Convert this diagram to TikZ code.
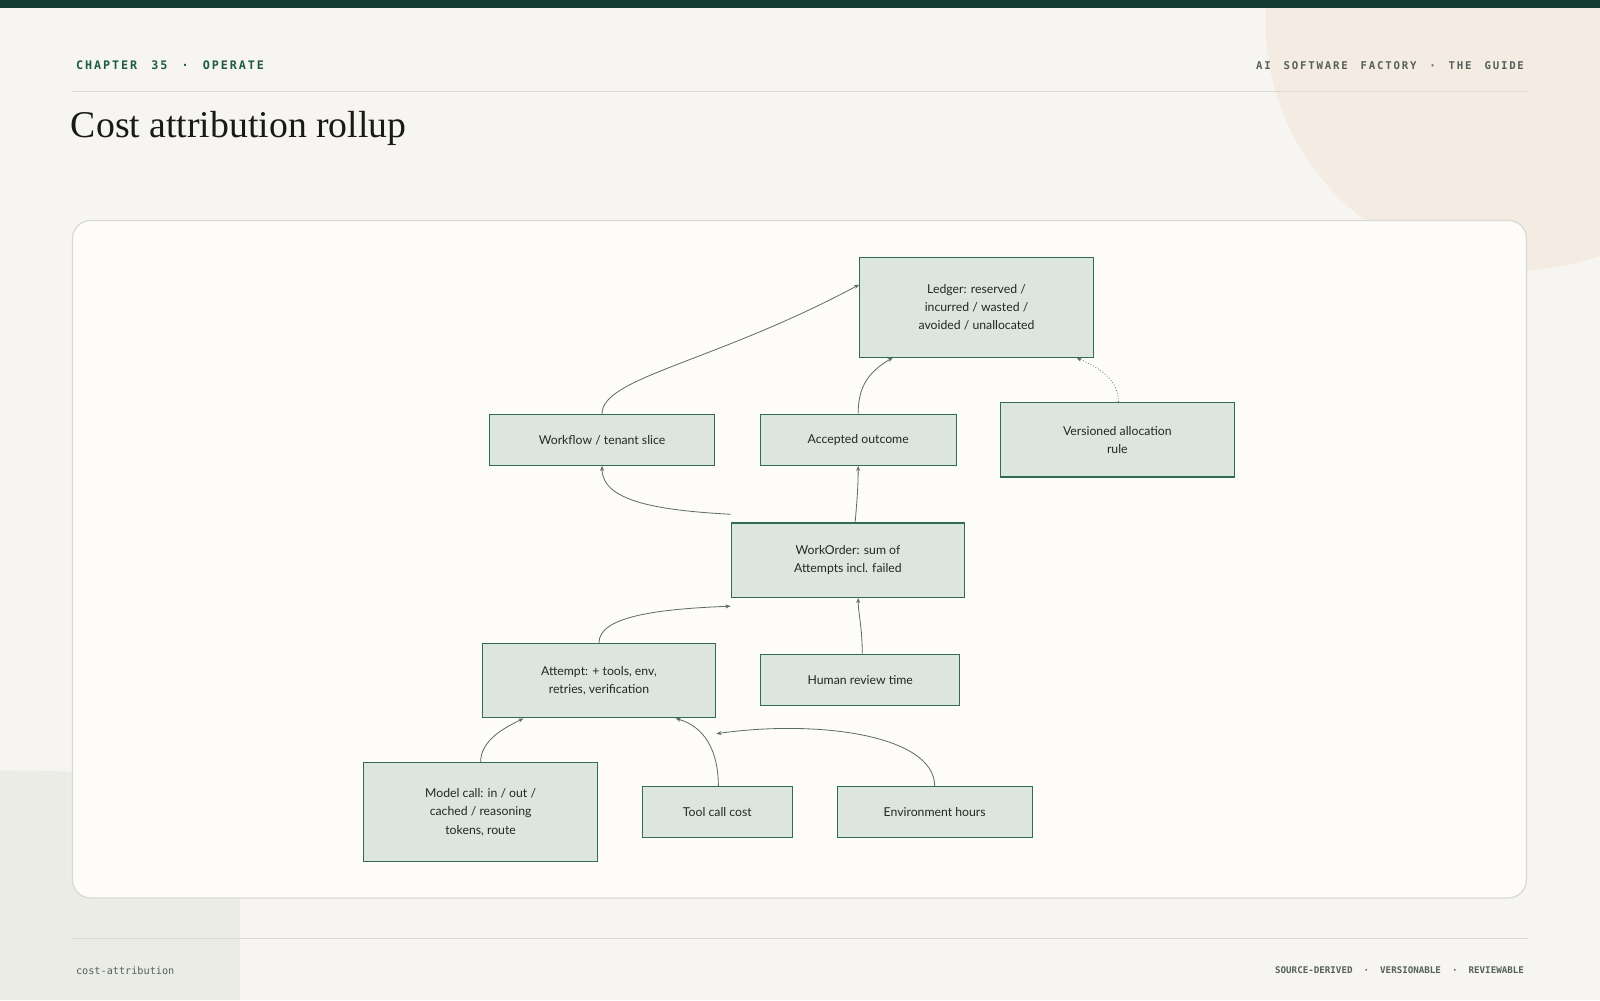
\documentclass[tikz,border=0pt]{standalone}
\usepackage{fontspec}
\setmainfont{Liberation Serif}
\newfontfamily\nodefont{Lato}
\newfontfamily\monof{DejaVu Sans Mono}
\usetikzlibrary{arrows.meta}
\definecolor{bg}{HTML}{F6F5F1}
\definecolor{bar}{HTML}{123D30}
\definecolor{peach}{HTML}{F4ECE2}
\definecolor{greyb}{HTML}{ECECE7}
\definecolor{panel}{HTML}{FDFCF8}
\definecolor{pstroke}{HTML}{DADAD5}
\definecolor{boxf}{HTML}{DCE6DE}
\definecolor{boxs}{HTML}{2F6B55}
\definecolor{arr}{HTML}{5E6E66}
\definecolor{hdr}{HTML}{1E5A44}
\definecolor{gtxt}{HTML}{55605A}
\begin{document}
\begin{tikzpicture}[x=1pt,y=-1pt,
 box/.style={draw=boxs,fill=boxf,line width=1.1pt,font=\nodefont\fontsize{12}{18}\selectfont,align=center,inner sep=0pt,text=black!85},
 con/.style={draw=arr,line width=0.8pt,-{Stealth[length=5pt,width=4pt]}}]
\useasboundingbox (0,0) rectangle (1568,980);
\fill[bg] (0,0) rectangle (1568,980);
\begin{scope}
\clip (0,0) rectangle (1568,980);
\fill[peach] (1485,20) circle (245);
\fill[greyb] (0,980) -- (0,755) .. controls (150,755) and (235,770) .. (235,830) -- (235,980) -- cycle;
\end{scope}
\fill[bar] (0,0) rectangle (1568,8);
\draw[pstroke,line width=0.6pt] (71,89) -- (1497,89);
\draw[pstroke,line width=0.6pt] (71,920) -- (1497,920);
\node[anchor=west,font=\monof\bfseries\fontsize{11.5}{14}\selectfont,text=hdr] (h1) at (71,64) {C\,H\,A\,P\,T\,E\,R\ \ 3\,5\ \ ·\ \ O\,P\,E\,R\,A\,T\,E};
\node[anchor=east,font=\monof\bfseries\fontsize{10.5}{14}\selectfont,text=gtxt] (h2) at (1497,64) {A\,I\ \ S\,O\,F\,T\,W\,A\,R\,E\ \ F\,A\,C\,T\,O\,R\,Y\ \ ·\ \ T\,H\,E\ \ G\,U\,I\,D\,E};
\node[anchor=west,font=\fontsize{37}{42}\selectfont,text=black!90] (title) at (66,126) {Cost attribution rollup};
\node[anchor=west,font=\monof\fontsize{10}{12}\selectfont,text=gtxt] (f1) at (71,951) {cost-attribution};
\node[anchor=east,font=\monof\bfseries\fontsize{9}{12}\selectfont,text=gtxt] (f2) at (1497,951) {SOURCE-DERIVED\ \ ·\ \ VERSIONABLE\ \ ·\ \ REVIEWABLE};
\draw[pstroke,fill=panel,line width=1.2pt,rounded corners=18] (71,216) rectangle (1496,880);
\node[box,minimum width=229,minimum height=98] (ledger) at (957,301) {Ledger: reserved /\\incurred / wasted /\\avoided / unallocated};
\node[box,minimum width=221,minimum height=50] (wf) at (590,431) {Workflow / tenant slice};
\node[box,minimum width=192,minimum height=50] (acc) at (841,431) {Accepted outcome};
\node[box,minimum width=229,minimum height=73] (ver) at (1095,431) {Versioned allocation\\rule};
\node[box,minimum width=229,minimum height=73] (wo) at (831,549) {WorkOrder: sum of\\Attempts incl. failed};
\node[box,minimum width=229,minimum height=73] (att) at (587,667) {Attempt: + tools, env,\\retries, verification};
\node[box,minimum width=195,minimum height=50] (hum) at (843,666) {Human review time};
\node[box,minimum width=229,minimum height=97] (mod) at (471,796) {Model call: in / out /\\cached / reasoning\\tokens, route};
\node[box,minimum width=147,minimum height=50] (tool) at (703,796) {Tool call cost};
\node[box,minimum width=191,minimum height=50] (env) at (916,796) {Environment hours};
\draw[con] (wf.north) .. controls (590,370) and (700,355) .. ([yshift=22]ledger.west);
\draw[con] (acc.north) .. controls (841,380) and (850,365) .. ([xshift=33]ledger.south west);
\draw[con,dotted] ([xshift=1]ver.north) .. controls (1096,370) and (1075,360) .. ([xshift=-17]ledger.south east);
\draw[con] ([yshift=8]wo.north west) .. controls (640,500) and (590,490) .. (wf.south);
\draw[con] ([xshift=7]wo.north) .. controls (840,490) and (841,475) .. (acc.south);
\draw[con] (att.north) .. controls (587,605) and (640,597) .. ([yshift=-8]wo.south west);
\draw[con] ([xshift=2]hum.north) .. controls (845,615) and (841,600) .. ([xshift=10]wo.south);
\draw[con] (mod.north) .. controls (471,725) and (495,713) .. ([xshift=41]att.south west);
\draw[con] ([xshift=1]tool.north) .. controls (704,735) and (690,712) .. ([xshift=-40]att.south east);
\draw[con] (env.north) .. controls (916,720) and (800,705) .. ([yshift=-15]att.south east);
\end{tikzpicture}
\end{document}
